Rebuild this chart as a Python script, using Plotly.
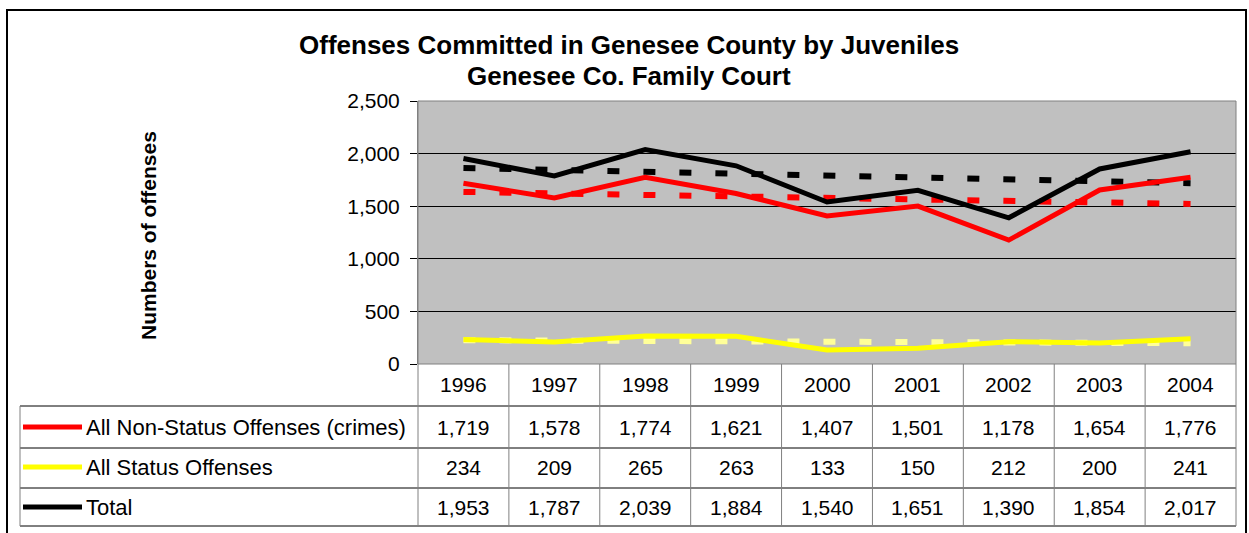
import numpy as np
import plotly.graph_objects as go

years = ["1996", "1997", "1998", "1999", "2000", "2001", "2002", "2003", "2004"]
non_status = [1719, 1578, 1774, 1621, 1407, 1501, 1178, 1654, 1776]
status = [234, 209, 265, 263, 133, 150, 212, 200, 241]
total = [1953, 1787, 2039, 1884, 1540, 1651, 1390, 1854, 2017]
series_names = ["All Non-Status Offenses (crimes)", "All Status Offenses", "Total"]
series_colors = ["#FF0000", "#FFFF00", "#000000"]
trend_colors = ["#FF0000", "#FFFF99", "#000000"]
y_ticks = [0, 500, 1000, 1500, 2000, 2500]

W, H = 1249, 533
L, R, T, B = 418, 13, 101, 169
PW, PH = W - L - R, H - T - B
FONT = "Liberation Sans, Arial, sans-serif"


def px(x):
    return (x - L) / PW


def py(y):
    return (H - B - y) / PH


fig = go.Figure()
xi = list(range(len(years)))
all_series = [non_status, status, total]

# linear trendlines (as in the original spreadsheet chart)
for vals, col in zip(all_series, trend_colors):
    k, b = np.polyfit(xi, vals, 1)
    fig.add_trace(go.Scatter(x=[xi[0], xi[-1]], y=[k * xi[0] + b, k * xi[-1] + b],
                             mode="lines", line=dict(color=col, width=6, dash="12px,24px"),
                             hoverinfo="skip", showlegend=False))

for vals, col, name in zip(all_series, series_colors, series_names):
    fig.add_trace(go.Scatter(x=xi, y=vals, mode="lines", name=name,
                             line=dict(color=col, width=5), showlegend=False))

shapes = []
ann = []
# outer frame
shapes.append(dict(type="rect", xref="paper", yref="paper", x0=px(7), x1=px(1246),
                   y0=py(545), y1=py(10), line=dict(color="black", width=2)))
# plot border
shapes.append(dict(type="rect", xref="paper", yref="paper", x0=0, x1=1, y0=0, y1=1,
                   line=dict(color="#808080", width=1), layer="above"))

# table geometry
row_lines = [406, 448, 488, 526]
col_w = PW / len(years)
grey = "#808080"
for yv in row_lines:
    shapes.append(dict(type="line", xref="paper", yref="paper", x0=px(20), x1=px(1236),
                       y0=py(yv), y1=py(yv), line=dict(color="black", width=1)))
for k in range(len(years) + 1):
    xv = L + k * col_w
    shapes.append(dict(type="line", xref="paper", yref="paper", x0=px(xv), x1=px(xv),
                       y0=py(364), y1=py(526), line=dict(color=grey, width=1)))
shapes.append(dict(type="line", xref="paper", yref="paper", x0=px(20), x1=px(20),
                   y0=py(406), y1=py(526), line=dict(color=grey, width=1)))


def text(x, y, s, xref="paper", size=21, xanchor="center", angle=0):
    ann.append(dict(x=x, xref=xref, y=py(y), yref="paper", text=s, showarrow=False,
                    xanchor=xanchor, yanchor="middle", textangle=angle,
                    font=dict(size=size, color="black", family=FONT)))


# year row
for i, yr in enumerate(years):
    text(i, 384, yr, xref="x")

row_centers = [427, 467, 507]
for r, (vals, col, name) in enumerate(zip(all_series, series_colors, series_names)):
    yc = row_centers[r]
    shapes.append(dict(type="line", xref="paper", yref="paper", x0=px(23), x1=px(82),
                       y0=py(yc), y1=py(yc), line=dict(color=col, width=5)))
    text(px(84), yc, name, xanchor="left", size=22)
    for i, v in enumerate(vals):
        text(i, yc, f"{v:,}", xref="x")

# titles
text(px(629), 45, "<b>Offenses Committed in Genesee County by Juveniles</b>", size=26)
text(px(629), 76, "<b>Genesee Co. Family Court</b>", size=26)
text(px(148), 236, "<b>Numbers of offenses</b>", angle=-90)

fig.update_layout(
    width=W, height=H,
    margin=dict(l=L, r=R, t=T, b=B, pad=0, autoexpand=False),
    paper_bgcolor="white", plot_bgcolor="#C0C0C0",
    shapes=shapes, annotations=ann,
    font=dict(family=FONT, size=21, color="black"),
)
fig.update_xaxes(range=[-0.5, len(years) - 0.5], showticklabels=False, showgrid=False,
                 zeroline=False, showline=False, ticks="", fixedrange=True)
fig.update_yaxes(range=[0, 2500], tickvals=y_ticks, tickformat=",d", showgrid=True,
                 gridcolor="black", gridwidth=1, zeroline=False, showline=True,
                 linecolor="#808080", linewidth=1, ticks="outside", ticklen=7,
                 tickcolor="black", ticklabelstandoff=6,
                 tickfont=dict(size=21, family=FONT, color="black"), fixedrange=True)

fig.write_html("out.html", config={"displayModeBar": False},
               post_script="document.body.style.margin='0';document.body.style.overflow='hidden';")
